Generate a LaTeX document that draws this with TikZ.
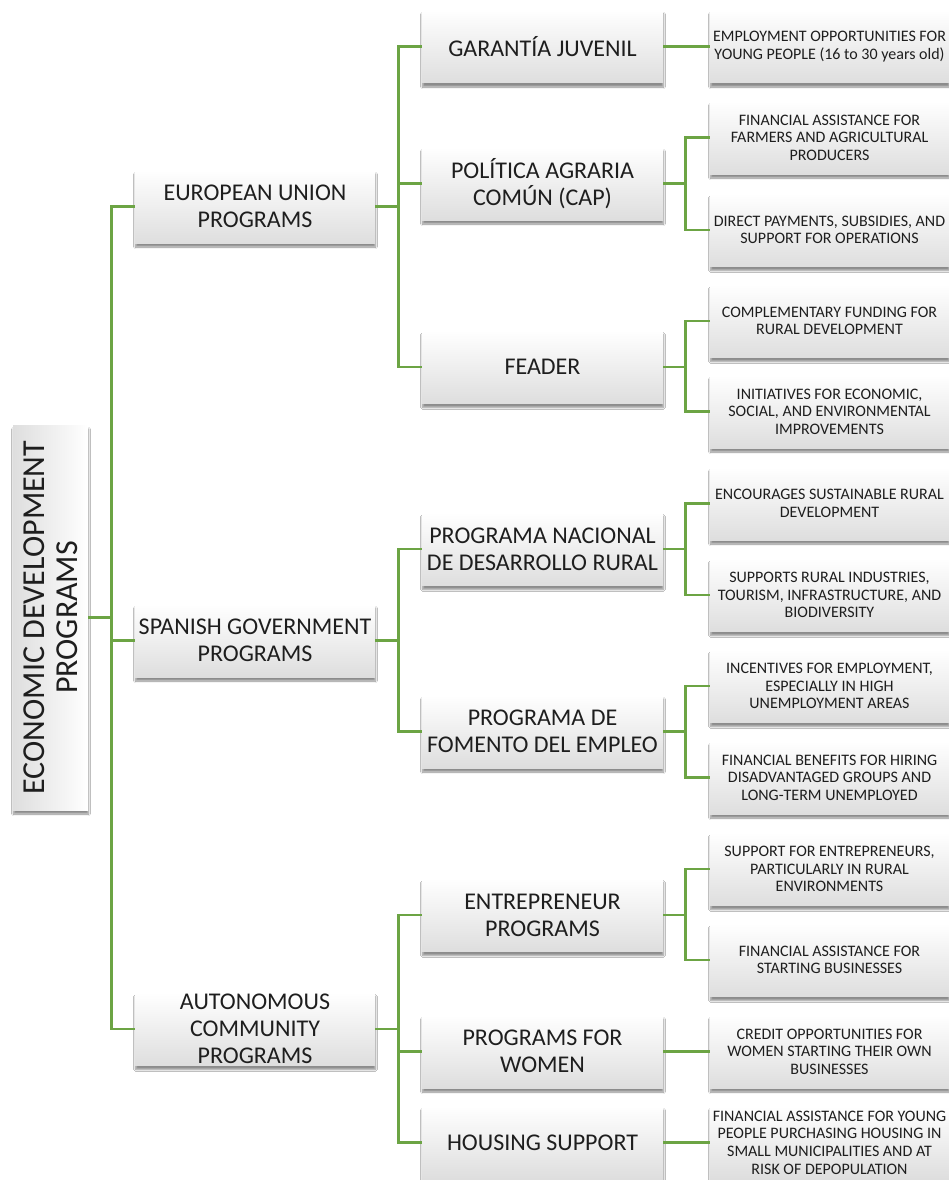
\documentclass[tikz,border=0pt]{standalone}
\usepackage{fontspec}
\setmainfont{Carlito}
\usepackage{tikz}
\usepackage{xcolor}
\usetikzlibrary{shadows.blur}
\definecolor{linkgreen}{HTML}{6CA444}
\definecolor{boxtext}{HTML}{1E1E1E}

\begin{document}
\begin{tikzpicture}[x=1pt,y=-1pt,
  every node/.style={text=boxtext,align=center,inner sep=0pt},
  boxshade/.style={top color=white,bottom color=black!13,
    blur shadow={shadow xshift=0.5pt,shadow yshift=-4pt,shadow opacity=45,shadow blur steps=6}},
  rootbox/.style={rotate=90,minimum width=385,minimum height=75,
    left color=black!13,right color=white,
    blur shadow={shadow xshift=0.5pt,shadow yshift=-4pt,shadow opacity=45,shadow blur steps=6},
    font=\fontsize{32}{33.5}\selectfont},
  lvlone/.style={boxshade,minimum width=240,minimum height=73,font=\fontsize{24}{27}\selectfont},
  lvltwo/.style={boxshade,minimum width=241,minimum height=73,font=\fontsize{24}{27}\selectfont},
  lvlthree/.style={boxshade,minimum width=239,minimum height=73,font=\fontsize{16}{17.6}\selectfont},
  link/.style={draw=linkgreen,line width=2.6pt}]
\useasboundingbox[fill=white] (0,0) rectangle (949,1180);

\node[rootbox] (root) at (50.5,617.5) {ECONOMIC DEVELOPMENT\\PROGRAMS};

\node[lvlone] (eu) at (255,206.5) {EUROPEAN UNION\\PROGRAMS};
\node[lvlone] (es) at (255,640.5) {SPANISH GOVERNMENT\\PROGRAMS};
\node[lvlone] (ac) at (255,1029) {\fontsize{24}{25.5}\selectfont AUTONOMOUS\\COMMUNITY\\PROGRAMS};

\node[lvltwo] (gj) at (542.5,46.5) {GARANTÍA JUVENIL};
\node[lvltwo] (pac) at (542.5,183.5) {POLÍTICA AGRARIA\\COMÚN (CAP)};
\node[lvltwo] (feader) at (542.5,367) {FEADER};
\node[lvltwo] (pndr) at (542.5,549) {PROGRAMA NACIONAL\\DE DESARROLLO RURAL};
\node[lvltwo] (pfe) at (542.5,731.5) {PROGRAMA DE\\FOMENTO DEL EMPLEO};
\node[lvltwo] (entr) at (542.5,915) {ENTREPRENEUR\\PROGRAMS};
\node[lvltwo] (women) at (542.5,1051.5) {PROGRAMS FOR\\WOMEN};
\node[lvltwo] (housing) at (542.5,1142.5) {HOUSING SUPPORT};

\node[lvlthree] (gjyoung) at (829.5,46.5) {EMPLOYMENT OPPORTUNITIES FOR\\YOUNG PEOPLE (16 to 30 years old)};
\node[lvlthree] (pacfarm) at (829.5,137.5) {FINANCIAL ASSISTANCE FOR\\FARMERS AND AGRICULTURAL\\PRODUCERS};
\node[lvlthree] (pacpay) at (829.5,230) {DIRECT PAYMENTS, SUBSIDIES, AND\\SUPPORT FOR OPERATIONS};
\node[lvlthree] (feafund) at (829.5,321) {COMPLEMENTARY FUNDING FOR\\RURAL DEVELOPMENT};
\node[lvlthree] (feainit) at (829.5,411.5) {INITIATIVES FOR ECONOMIC,\\SOCIAL, AND ENVIRONMENTAL\\IMPROVEMENTS};
\node[lvlthree] (pndrsust) at (829.5,503.5) {ENCOURAGES SUSTAINABLE RURAL\\DEVELOPMENT};
\node[lvlthree] (pndrind) at (829.5,595) {SUPPORTS RURAL INDUSTRIES,\\TOURISM, INFRASTRUCTURE, AND\\BIODIVERSITY};
\node[lvlthree] (pfeinc) at (829.5,686) {INCENTIVES FOR EMPLOYMENT,\\ESPECIALLY IN HIGH\\UNEMPLOYMENT AREAS};
\node[lvlthree] (pfeben) at (829.5,777.5) {FINANCIAL BENEFITS FOR HIRING\\DISADVANTAGED GROUPS AND\\LONG-TERM UNEMPLOYED};
\node[lvlthree] (entrsup) at (829.5,869) {SUPPORT FOR ENTREPRENEURS,\\PARTICULARLY IN RURAL\\ENVIRONMENTS};
\node[lvlthree] (entrfin) at (829.5,960) {FINANCIAL ASSISTANCE FOR\\STARTING BUSINESSES};
\node[lvlthree] (womencred) at (829.5,1051.5) {CREDIT OPPORTUNITIES FOR\\WOMEN STARTING THEIR OWN\\BUSINESSES};
\node[lvlthree] (housyoung) at (829.5,1142.5) {FINANCIAL ASSISTANCE FOR YOUNG\\PEOPLE PURCHASING HOUSING IN\\SMALL MUNICIPALITIES AND AT\\RISK OF DEPOPULATION};

\draw[link] (root.south) -- ++(23,0) |- (eu.west);
\draw[link] (root.south) -- ++(23,0) |- (es.west);
\draw[link] (root.south) -- ++(23,0) |- (ac.west);

\draw[link] (eu.east) -- ++(23,0) |- (gj.west);
\draw[link] (eu.east) -- ++(23,0) |- (pac.west);
\draw[link] (eu.east) -- ++(23,0) |- (feader.west);
\draw[link] (es.east) -- ++(23,0) |- (pndr.west);
\draw[link] (es.east) -- ++(23,0) |- (pfe.west);
\draw[link] (ac.east) -- ++(23,0) |- (entr.west);
\draw[link] (ac.east) -- ++(23,0) |- (women.west);
\draw[link] (ac.east) -- ++(23,0) |- (housing.west);

\draw[link] (gj.east) -- (gjyoung.west);
\draw[link] (pac.east) -- ++(22.5,0) |- (pacfarm.west);
\draw[link] (pac.east) -- ++(22.5,0) |- (pacpay.west);
\draw[link] (feader.east) -- ++(22.5,0) |- (feafund.west);
\draw[link] (feader.east) -- ++(22.5,0) |- (feainit.west);
\draw[link] (pndr.east) -- ++(22.5,0) |- (pndrsust.west);
\draw[link] (pndr.east) -- ++(22.5,0) |- (pndrind.west);
\draw[link] (pfe.east) -- ++(22.5,0) |- (pfeinc.west);
\draw[link] (pfe.east) -- ++(22.5,0) |- (pfeben.west);
\draw[link] (entr.east) -- ++(22.5,0) |- (entrsup.west);
\draw[link] (entr.east) -- ++(22.5,0) |- (entrfin.west);
\draw[link] (women.east) -- (womencred.west);
\draw[link] (housing.east) -- (housyoung.west);
\end{tikzpicture}
\end{document}
